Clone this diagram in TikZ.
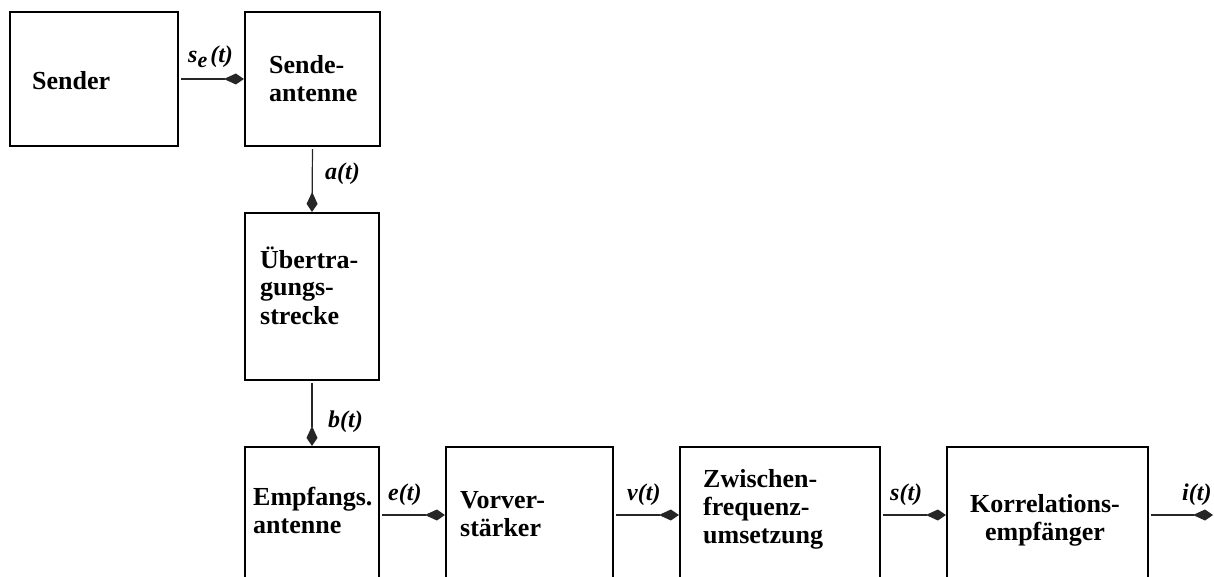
\documentclass[tikz,border=0pt]{standalone}
\usepackage{fontspec}
\setmainfont{Liberation Serif}
\usetikzlibrary{arrows.meta}
\begin{document}
\begin{tikzpicture}[x=1pt,y=-1pt,
  box/.style={draw, line width=2.2pt, inner sep=0pt, rectangle},
  txt/.style={anchor=base west, inner sep=0pt, align=left, text width=160pt,
    font=\fontsize{26}{28}\selectfont\bfseries},
  ctxt/.style={anchor=base, inner sep=0pt, align=center, text width=190pt,
    font=\fontsize{26}{28}\selectfont\bfseries},
  lab/.style={anchor=base west, inner sep=0pt,
    font=\fontsize{24}{26}\selectfont\bfseries\itshape},
  conn/.style={draw=black!85, line width=1.2pt, shorten <=2pt,
    -{Kite[length=20pt,width=11pt,inset=12pt]}}]
\clip (0,0) rectangle (1214,577);
% boxes
\node[box, minimum width=168pt, minimum height=134pt] (sender) at (94,79) {};
\node[box, minimum width=135pt, minimum height=134pt] (sa) at (312.5,79) {};
\node[box, minimum width=134pt, minimum height=167pt] (ue) at (312,296.5) {};
\node[box, minimum width=134pt, minimum height=136pt] (ea) at (312,515) {};
\node[box, minimum width=167pt, minimum height=136pt] (vv) at (529.5,515) {};
\node[box, minimum width=200pt, minimum height=136pt] (zf) at (780,515) {};
\node[box, minimum width=201pt, minimum height=136pt] (ke) at (1047.5,515) {};
\coordinate (out) at (1213,515);
% box texts
\node[txt] (tsender) at (32,90) {Sender};
\node[txt] (tsa) at (269,74) {Sende-\\antenne};
\node[txt] (tue) at (260,268) {Übertra-\\gungs-\\strecke};
\node[txt] (tea) at (253,505) {Empfangs.\\antenne};
\node[txt] (tvv) at (460,508) {Vorver-\\stärker};
\node[txt] (tzf) at (703,487) {Zwischen-\\frequenz-\\umsetzung};
\node[ctxt] (tke) at (1045,512) {Korrelations-\\empfänger};
% connectors
\draw[conn] (sender.east) -- (sa.west);
\draw[conn] (sa.south) -- (ue.north);
\draw[conn] (ue.south) -- (ea.north);
\draw[conn] (ea.east) -- (vv.west);
\draw[conn] (vv.east) -- (zf.west);
\draw[conn] (zf.east) -- (ke.west);
\draw[conn] (ke.east) -- (out);
% labels
\node[lab] (lse) at (188,63) {s\raisebox{-5pt}{\fontsize{22}{22}\selectfont e}\hspace{3pt}(t)};
\node[lab] (la) at (325,180) {a(t)};
\node[lab] (lb) at (328,427) {b(t)};
\node[lab] (le) at (388,500) {e(t)};
\node[lab] (lv) at (627,500) {v(t)};
\node[lab] (ls) at (890,500) {s(t)};
\node[lab] (li) at (1182,500) {i(t)};
\end{tikzpicture}
\end{document}
